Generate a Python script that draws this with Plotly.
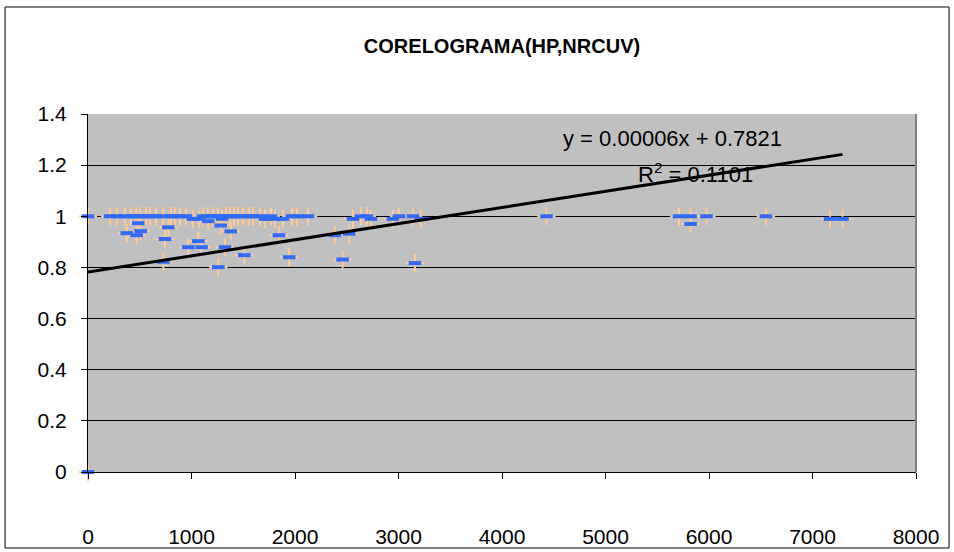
import plotly.graph_objects as go

# ---- data ----
hp = [0, 0, 213, 280, 357, 415, 464, 502, 560, 599, 657, 725, 802, 841, 889, 947,
      1014, 1072, 1111, 1159, 1208, 1256, 1295, 1333, 1372, 1411, 1449, 1497, 1555,
      1594, 1662, 1710, 1768, 1807, 1884, 1971, 2019, 2126, 2560, 2637, 2695, 2734,
      2946, 3004, 3140, 3217, 4430, 5710, 5822, 5822, 5976, 6550, 7170, 7290,
      486, 374, 509, 470, 776, 744, 728, 969, 1066, 1098, 1162, 1282, 1379, 1323,
      1510, 1259, 1845, 1944, 2386, 2524, 2460, 3159]
nrcuv = [0.0, 1.0, 1.0, 1.0, 1.0, 1.0, 1.0, 1.0, 1.0, 1.0, 1.0, 1.0, 1.0, 1.0, 1.0, 1.0,
         0.99, 0.99, 1.0, 1.0, 1.0, 1.0, 0.99, 1.0, 1.0, 1.0, 1.0, 1.0, 1.0,
         1.0, 1.0, 0.99, 1.0, 0.99, 0.99, 1.0, 1.0, 1.0, 0.99, 1.0, 1.0, 0.99,
         0.99, 1.0, 1.0, 0.99, 1.0, 1.0, 1.0, 0.97, 1.0, 1.0, 0.99, 0.99,
         0.973, 0.934, 0.942, 0.926, 0.957, 0.911, 0.822, 0.879, 0.903, 0.879, 0.981,
         0.964, 0.941, 0.879, 0.848, 0.801, 0.926, 0.840, 0.926, 0.932, 0.831, 0.817]

trend_intercept = 0.7821
trend_slope = 0.0000631
trend_label = "y = 0.00006x + 0.7821"
r2_label = "R<sup>2</sup> = 0.1101"
title_text = "CORELOGRAMA(HP,NRCUV)"

x_ticks = [0, 1000, 2000, 3000, 4000, 5000, 6000, 7000, 8000]
y_ticks = [0, 0.2, 0.4, 0.6, 0.8, 1.0, 1.2, 1.4]

FONT = "Liberation Sans, Arial, sans-serif"

trend_x = [min(hp), max(hp)]
trend_y = [trend_intercept + trend_slope * v for v in trend_x]

fig = go.Figure()
fig.add_trace(go.Scatter(
    x=hp, y=nrcuv, mode="markers", cliponaxis=False, hoverinfo="skip",
    marker=dict(symbol="cross-thin", size=13, line=dict(width=2, color="#FFC895")),
    showlegend=False))
fig.add_trace(go.Scatter(
    x=hp, y=nrcuv, mode="markers", cliponaxis=False,
    marker=dict(symbol="line-ew", size=9, line=dict(width=4, color="#2F6BFF")),
    showlegend=False))
fig.add_trace(go.Scatter(
    x=trend_x, y=trend_y, mode="lines", line=dict(color="black", width=3),
    showlegend=False, hoverinfo="skip"))

fig.update_layout(
    width=954, height=552,
    margin=dict(l=88, r=38, t=114, b=80, autoexpand=False),
    paper_bgcolor="white", plot_bgcolor="#C0C0C0",
    font=dict(family=FONT, size=20, color="black"),
    title=dict(text="<b>" + title_text + "</b>", x=0.5, xref="paper", xanchor="center",
               y=1 - 46 / 552, yref="container", yanchor="middle",
               font=dict(family=FONT, size=20, color="black")),
    xaxis=dict(range=[0, 8000], tickvals=x_ticks, ticks="outside", ticklen=6,
               tickcolor="black", showgrid=False, zeroline=False, showline=True,
               linecolor="black", linewidth=1, ticklabelstandoff=40,
               tickfont=dict(size=21)),
    yaxis=dict(range=[0, 1.4], tickvals=y_ticks, ticks="outside", ticklen=6,
               tickcolor="black", showgrid=True, gridcolor="black", gridwidth=1,
               zeroline=False, showline=True, linecolor="black", linewidth=1,
               ticklabelstandoff=10, tickfont=dict(size=21)),
    annotations=[
        dict(text=trend_label, x=5652, y=1.305, xref="x", yref="y", showarrow=False,
             font=dict(size=22, family=FONT, color="black")),
        dict(text=r2_label, x=5874, y=1.168, xref="x", yref="y", showarrow=False,
             font=dict(size=22, family=FONT, color="black")),
    ],
    shapes=[
        dict(type="line", xref="paper", yref="paper", x0=1, x1=1, y0=0, y1=1,
             line=dict(color="#808080", width=2), layer="above"),
        dict(type="rect", xref="paper", yref="paper", x0=-0.1002, x1=1.0399,
             y0=-0.2123, y1=1.2989, line=dict(color="black", width=1)),
    ],
)

fig.write_html("out.html")
